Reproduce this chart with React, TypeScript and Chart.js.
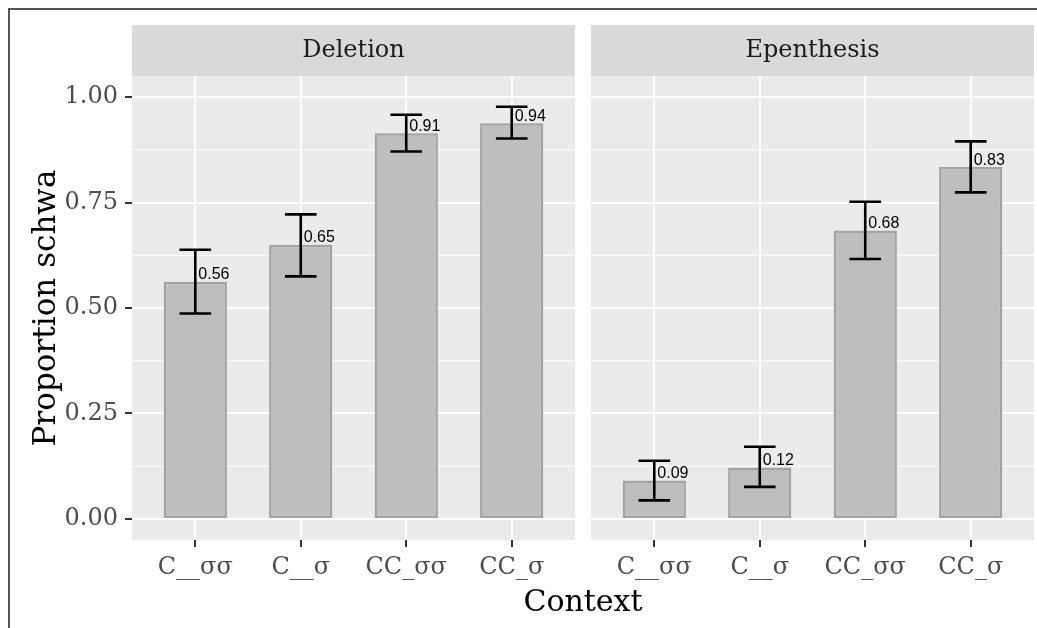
import React, { useEffect, useRef } from 'react';
import { Chart, registerables } from 'chart.js';

Chart.register(...registerables);

// ---------- data ----------
const categories = ['C__σσ', 'C__σ', 'CC_σσ', 'CC_σ'];
const panelNames = ['Deletion', 'Epenthesis'];
const deletionValues = [0.562, 0.65, 0.914, 0.938];
const deletionLower = [0.487, 0.575, 0.871, 0.902];
const deletionUpper = [0.638, 0.722, 0.958, 0.977];
const epenthesisValues = [0.091, 0.122, 0.684, 0.834];
const epenthesisLower = [0.044, 0.076, 0.616, 0.774];
const epenthesisUpper = [0.138, 0.171, 0.752, 0.895];
const yTicks = [0, 0.25, 0.5, 0.75, 1];
const yMinorTicks = [0.125, 0.375, 0.625, 0.875];
const yTitle = 'Proportion schwa';
const xTitle = 'Context';

// ---------- layout / style ----------
const W = 1037;
const H = 628;
const PANEL_TOP = 76;
const PANEL_BOTTOM = 540;
const STRIP_H = 51;
const P1_LEFT = 132;
const P1_RIGHT = 575;
const P2_LEFT = 591;
const P2_RIGHT = 1034;
const X_AXIS_H = 40;
const SERIF = '"DejaVu Serif", serif';
const SANS = '"Liberation Sans", Arial, sans-serif';

function makeConfig(panel: number, values: number[], lower: number[], upper: number[], first: boolean): any {
  const panelPlugin = {
    id: 'panelBg' + panel,
    beforeDraw(chart: any) {
      const { ctx, chartArea: a, scales } = chart;
      ctx.save();
      // strip
      ctx.fillStyle = '#d9d9d9';
      ctx.fillRect(a.left, a.top - STRIP_H, a.right - a.left, STRIP_H);
      ctx.fillStyle = '#1a1a1a';
      ctx.font = `24px ${SERIF}`;
      ctx.textAlign = 'center';
      ctx.textBaseline = 'middle';
      ctx.fillText(panelNames[panel], (a.left + a.right) / 2, a.top - STRIP_H / 2);
      // panel background
      ctx.fillStyle = '#ebebeb';
      ctx.fillRect(a.left, a.top, a.right - a.left, a.bottom - a.top);
      // minor grid
      ctx.strokeStyle = '#ffffff';
      ctx.lineWidth = 1;
      yMinorTicks.forEach((v) => {
        const y = scales.y.getPixelForValue(v);
        ctx.beginPath();
        ctx.moveTo(a.left, y);
        ctx.lineTo(a.right, y);
        ctx.stroke();
      });
      ctx.restore();
    },
    afterDatasetsDraw(chart: any) {
      const { ctx, scales } = chart;
      const xs = scales.x;
      const ys = scales.y;
      ctx.save();
      ctx.strokeStyle = '#000000';
      ctx.lineWidth = 2.6;
      values.forEach((v, i) => {
        const x = xs.getPixelForValue(i + 1);
        const half = xs.getPixelForValue(i + 1.15) - x;
        const yt = ys.getPixelForValue(upper[i]);
        const yb = ys.getPixelForValue(lower[i]);
        ctx.beginPath();
        ctx.moveTo(x, yt);
        ctx.lineTo(x, yb);
        ctx.moveTo(x - half, yt);
        ctx.lineTo(x + half, yt);
        ctx.moveTo(x - half, yb);
        ctx.lineTo(x + half, yb);
        ctx.stroke();
      });
      ctx.fillStyle = '#000000';
      ctx.font = `16px ${SANS}`;
      ctx.textAlign = 'left';
      ctx.textBaseline = 'alphabetic';
      values.forEach((v, i) => {
        const x = xs.getPixelForValue(i + 1);
        const y = ys.getPixelForValue(v);
        ctx.fillText(v.toFixed(2), x + 3, y - 2.5);
      });
      ctx.restore();
    },
    afterDraw(chart: any) {
      if (!first) return;
      const { ctx, chartArea: a } = chart;
      ctx.save();
      ctx.fillStyle = '#000000';
      ctx.font = `30px ${SERIF}`;
      ctx.textAlign = 'center';
      ctx.textBaseline = 'alphabetic';
      ctx.fillText(xTitle, (a.left + P2_RIGHT) / 2, 611);
      ctx.restore();
    },
  };

  return {
    type: 'bar',
    data: {
      datasets: [
        {
          data: values.map((v, i) => ({ x: i + 1, y: v })),
          backgroundColor: '#bebebe',
          borderColor: '#a3a3a3',
          borderWidth: 2.5,
          borderSkipped: false,
          barPercentage: 0.6,
          categoryPercentage: 1,
        },
      ],
    },
    options: {
      responsive: false,
      animation: false,
      devicePixelRatio: 1,
      layout: {
        padding: {
          top: PANEL_TOP,
          bottom: H - PANEL_BOTTOM - X_AXIS_H,
          left: first ? 0 : P2_LEFT,
          right: first ? W - P1_RIGHT : W - P2_RIGHT,
        },
      },
      plugins: { legend: { display: false }, tooltip: { enabled: false }, title: { display: false } },
      scales: {
        x: {
          type: 'linear',
          min: 0.4,
          max: categories.length + 0.6,
          offset: false,
          afterBuildTicks: (s: any) => {
            s.ticks = categories.map((_, i) => ({ value: i + 1 }));
          },
          afterFit: (s: any) => {
            s.height = X_AXIS_H;
          },
          ticks: {
            autoSkip: false,
            maxRotation: 0,
            minRotation: 0,
            padding: 6,
            color: '#4d4d4d',
            font: { family: SERIF, size: 24 },
            callback: (v: any) => categories[Math.round(Number(v)) - 1] ?? '',
          },
          grid: {
            offset: false,
            color: '#ffffff',
            lineWidth: 2,
            tickColor: '#333333',
            tickWidth: 2,
            tickLength: 7,
          },
          border: { display: false },
        },
        y: {
          min: -0.05,
          max: 1.05,
          afterBuildTicks: (s: any) => {
            s.ticks = yTicks.map((v) => ({ value: v }));
          },
          afterFit: (s: any) => {
            s.width = first ? P1_LEFT : 0;
          },
          ticks: {
            display: first,
            padding: 7,
            color: '#4d4d4d',
            font: { family: SERIF, size: 24 },
            callback: (v: any) => Number(v).toFixed(2),
          },
          grid: {
            color: '#ffffff',
            lineWidth: 2,
            tickColor: '#333333',
            tickWidth: 2,
            tickLength: 7,
            drawTicks: first,
          },
          border: { display: false },
          title: {
            display: first,
            text: yTitle,
            color: '#000000',
            font: { family: SERIF, size: 31 },
            padding: { top: 28, bottom: 0 },
          },
        },
      },
    },
    plugins: [panelPlugin],
  };
}

export default function App() {
  const refA = useRef<HTMLCanvasElement>(null);
  const refB = useRef<HTMLCanvasElement>(null);

  useEffect(() => {
    const a = new Chart(refA.current as HTMLCanvasElement, makeConfig(0, deletionValues, deletionLower, deletionUpper, true));
    const b = new Chart(refB.current as HTMLCanvasElement, makeConfig(1, epenthesisValues, epenthesisLower, epenthesisUpper, false));
    return () => {
      a.destroy();
      b.destroy();
    };
  }, []);

  const canvasStyle: React.CSSProperties = { position: 'absolute', left: 0, top: 0, width: W, height: H };

  return (
    <div style={{ position: 'fixed', left: 0, top: 0, width: W, height: H, overflow: 'hidden', background: '#ffffff' }}>
      <div
        style={{
          position: 'absolute',
          left: 8,
          top: 8,
          right: 0,
          bottom: 0,
          borderTop: '2px solid #555555',
          borderLeft: '2px solid #555555',
        }}
      />
      <canvas ref={refA} width={W} height={H} style={canvasStyle} />
      <canvas ref={refB} width={W} height={H} style={canvasStyle} />
    </div>
  );
}
